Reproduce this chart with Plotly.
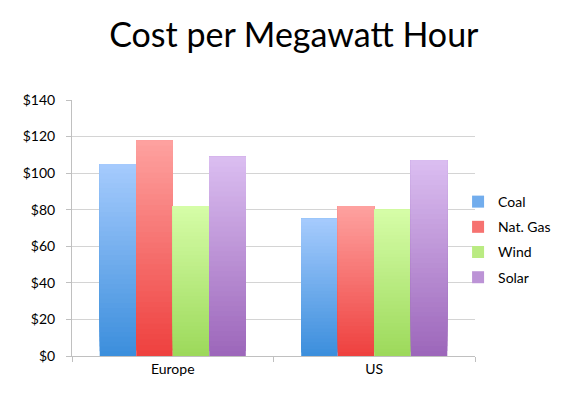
import plotly.graph_objects as go

categories = ["Europe", "US"]
series_names = ["Coal", "Nat. Gas", "Wind", "Solar"]
coal = [105, 75]
nat_gas = [118, 82]
wind = [82, 80]
solar = [109, 107]
y_ticks = [0, 20, 40, 60, 80, 100, 120, 140]
y_tick_labels = ["$0", "$20", "$40", "$60", "$80", "$100", "$120", "$140"]

series_values = [coal, nat_gas, wind, solar]
# (bottom colour, top colour) for the vertical gradient
gradients = [
    ((0x3b, 0x8e, 0xdc), (0xa6, 0xcb, 0xfd)),
    ((0xee, 0x40, 0x3e), (0xfe, 0xa2, 0xa0)),
    ((0x9c, 0xd9, 0x5a), (0xd6, 0xfd, 0xa8)),
    ((0x9c, 0x66, 0xba), (0xdb, 0xbe, 0xf1)),
]

N = 40
fig = go.Figure()
for name, vals, (c0, c1) in zip(series_names, series_values, gradients):
    for k in range(N):
        t = (k + 0.5) / N
        col = "rgb(%d,%d,%d)" % tuple(round(a + (b - a) * t) for a, b in zip(c0, c1))
        # each slice runs from its own start up to the bar top; later slices
        # cover the upper part of earlier ones, so there are no seams
        fig.add_trace(go.Bar(
            x=categories,
            y=[v - v * k / N for v in vals],
            base=[v * k / N for v in vals],
            name=name,
            legendgroup=name,
            offsetgroup=name,
            showlegend=(k == N // 2),
            marker=dict(color=col, line=dict(width=0)),
            hoverinfo="skip",
        ))

fig.update_layout(
    width=554, height=382,
    margin=dict(l=64, r=87, t=92, b=34, autoexpand=False),
    paper_bgcolor="white", plot_bgcolor="white",
    barmode="group", bargap=0.275, bargroupgap=0,
    font=dict(family="Lato, Open Sans, sans-serif", size=14, color="black"),
    title=dict(text="Cost per Megawatt Hour", x=0.516, xanchor="center",
               y=0.929, yanchor="middle", font=dict(size=34, color="black")),
    legend=dict(x=0.958, xanchor="left", y=0.455, yanchor="middle",
                font=dict(size=14), tracegroupgap=4, bgcolor="rgba(0,0,0,0)"),
    showlegend=True,
)
fig.update_xaxes(
    showline=True, linecolor="#c0c0c0", linewidth=1,
    ticks="outside", tickson="boundaries", ticklen=5, tickcolor="#c0c0c0",
    showgrid=False,
)
fig.update_yaxes(
    range=[0, 140], tickvals=y_ticks, ticktext=y_tick_labels,
    showline=True, linecolor="#c0c0c0", linewidth=1,
    ticks="outside", ticklen=5, tickcolor="#c0c0c0",
    showgrid=True, gridcolor="#d4d4d4", gridwidth=1, zeroline=False,
    ticklabelstandoff=8,
)
fig.write_html("out.html")
